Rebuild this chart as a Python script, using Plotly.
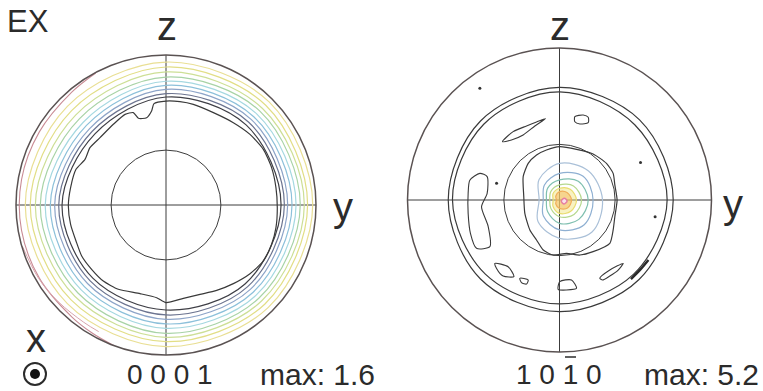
import numpy as np
import plotly.graph_objects as go

# ---------------- data ----------------
ANG8 = [0, 45, 90, 135, 180, 225, 270, 315]   # directions (deg, 0 = y, 90 = z)

# Left pole figure {0001}: contour radii (normalised) at ANG8, outer -> inner
left_levels = [
    [0.978, 0.972, 0.953, 0.930, 0.938, 0.930, 0.944, 0.965],
    [0.944, 0.940, 0.920, 0.890, 0.905, 0.895, 0.911, 0.933],
    [0.922, 0.910, 0.887, 0.850, 0.871, 0.860, 0.882, 0.903],
    [0.895, 0.885, 0.853, 0.815, 0.838, 0.830, 0.856, 0.877],
    [0.867, 0.857, 0.825, 0.780, 0.805, 0.800, 0.822, 0.850],
    [0.840, 0.830, 0.798, 0.750, 0.771, 0.770, 0.793, 0.822],
    [0.811, 0.805, 0.771, 0.720, 0.742, 0.740, 0.762, 0.795],
    [0.789, 0.780, 0.742, 0.695, 0.715, 0.715, 0.733, 0.770],
    [0.767, 0.755, 0.720, 0.670, 0.693, 0.690, 0.700, 0.745],
]
left_colors = ['#e9df94', '#e2de86', '#cddf96', '#a8d3a6', '#a5d8e0',
               '#8cc0da', '#8da4c8', '#6c7490', '#3f3f46']

# innermost wavy contour of left figure (x, y normalised)
left_wavy_x = [0, -0.08, -0.096, -0.129, -0.184, -0.218, -0.273, -0.351, -0.44, -0.507,
               -0.54, -0.6, -0.636, -0.651, -0.636, -0.6, -0.562, -0.496, -0.418, -0.318,
               -0.173, -0.062, 0, 0.116, 0.227, 0.338, 0.449, 0.56, 0.649, 0.704,
               0.733, 0.742, 0.733, 0.704, 0.649, 0.56, 0.449, 0.316, 0.182, 0.093]
left_wavy_y = [0.693, 0.676, 0.627, 0.582, 0.578, 0.616, 0.604, 0.538, 0.449, 0.382,
               0.304, 0.238, 0.116, -0.007, -0.129, -0.24, -0.34, -0.429, -0.507, -0.562,
               -0.591, -0.618, -0.651, -0.622, -0.596, -0.569, -0.524, -0.458, -0.373, -0.262,
               -0.151, -0.018, 0.116, 0.249, 0.371, 0.471, 0.549, 0.616, 0.671, 0.689]

# high-density arcs near left rim (theta deg, r)
left_red_theta = [250, 240, 230, 210, 190, 170, 150, 130, 118]
left_red_r = [1.0, 0.985, 0.975, 0.975, 0.978, 0.978, 0.975, 0.98, 0.997]
left_pink_theta = [196, 210, 222, 235, 242]
left_pink_r = [0.996, 0.98, 0.965, 0.955, 0.956]

# Right pole figure {10-10}
right_rings = [
    [0.748, 0.745, 0.741, 0.735, 0.732, 0.735, 0.735, 0.740],
    [0.708, 0.700, 0.712, 0.705, 0.704, 0.690, 0.684, 0.690],
]
right_blob_levels = [
    [0.283, 0.270, 0.241, 0.190, 0.134, 0.200, 0.252, 0.300],
    [0.221, 0.220, 0.175, 0.140, 0.107, 0.150, 0.197, 0.230],
    [0.189, 0.175, 0.132, 0.110, 0.086, 0.110, 0.154, 0.180],
    [0.145, 0.130, 0.099, 0.080, 0.064, 0.080, 0.110, 0.135],
    [0.112, 0.100, 0.077, 0.060, 0.042, 0.060, 0.088, 0.105],
    [0.079, 0.070, 0.055, 0.035, 0.020, 0.035, 0.055, 0.075],
]
right_blob_colors = ['#aac0d8', '#8fb0d2', '#80c0b0', '#b6d88e', '#e8dc6e', '#f0ae5a']
right_blob_fills = [None, None, None, None, 'rgba(240,226,120,0.45)', 'rgba(244,190,100,0.55)']
right_core_x = [0.050, 0.032, 0.012, 0.030]
right_core_y = [-0.006, 0.012, -0.008, -0.026]

right_outer_x = [0.002, 0.112, 0.221, 0.309, 0.353, 0.364, 0.379, 0.364, 0.353, 0.331, 0.221,
                 0.134, 0.046, -0.042, -0.107, -0.151, -0.195, -0.228, -0.235, -0.239, -0.206,
                 -0.151, -0.086]
right_outer_y = [0.351, 0.333, 0.303, 0.241, 0.175, 0.099, 0.0, -0.110, -0.197, -0.285, -0.340,
                 -0.362, -0.351, -0.362, -0.329, -0.263, -0.197, -0.088, 0.022, 0.154, 0.241,
                 0.296, 0.329]

right_islands = [
    ([-0.59, -0.524, -0.476, -0.476, -0.513, -0.469, -0.458, -0.546, -0.586, -0.601, -0.601],
     [0.13, 0.175, 0.154, 0.044, -0.044, -0.175, -0.307, -0.318, -0.219, -0.088, 0.044]),
    ([-0.375, -0.305, -0.217, -0.151, -0.092, -0.162, -0.239, -0.316],
     [0.384, 0.450, 0.487, 0.513, 0.535, 0.487, 0.428, 0.395]),
    ([0.101, 0.156, 0.189, 0.189, 0.134, 0.101],
     [0.548, 0.559, 0.544, 0.509, 0.500, 0.515]),
    ([-0.425, -0.338, -0.300, -0.371, -0.414],
     [-0.417, -0.439, -0.504, -0.500, -0.450]),
    ([-0.261, -0.206, -0.217, -0.250],
     [-0.515, -0.526, -0.553, -0.544]),
    ([0.002, 0.079, 0.112, 0.046, -0.009],
     [-0.537, -0.526, -0.581, -0.592, -0.588]),
    ([0.265, 0.331, 0.419, 0.386, 0.331, 0.283],
     [-0.515, -0.461, -0.417, -0.461, -0.500, -0.526]),
]
right_dots_x = [-0.524, 0.533, 0.629, -0.414]
right_dots_y = [0.735, 0.246, -0.110, 0.110]
right_arc_x = [0.47, 0.53, 0.585]
right_arc_y = [-0.52, -0.46, -0.395]

GRID_R = 0.366
left_labels = {'title': 'EX', 'up': 'z', 'right': 'y', 'view': 'x', 'pole': '0 0 0 1', 'max': 'max: 1.6'}
right_labels = {'up': 'z', 'right': 'y', 'pole': '1 0 1 0', 'max': 'max: 5.2'}


# ---------------- helpers ----------------
def closed(v):
    v = list(v)
    return v + [v[0]]


def to_polar(x, y):
    x = np.asarray(x, float)
    y = np.asarray(y, float)
    return np.hypot(x, y), np.degrees(np.arctan2(y, x))


fig = go.Figure()


def add_line(sub, r, th, color, width=1.1, shape='linear', fill=None, fillcolor=None, smoothing=1.0):
    kw = dict(r=r, theta=th, mode='lines', subplot=sub, showlegend=False, hoverinfo='skip',
              line=dict(color=color, width=width, shape=shape, smoothing=smoothing))
    if fill:
        kw['fill'] = 'toself'
        kw['fillcolor'] = fillcolor
    fig.add_trace(go.Scatterpolar(**kw))


# left figure
for radii, col in zip(left_levels, left_colors):
    add_line('polar', closed(radii), closed(ANG8), col, width=1.2, shape='spline')
r, th = to_polar(left_wavy_x, left_wavy_y)
add_line('polar', closed(r), closed(th), '#3a3a3a', width=1.2, shape='spline', smoothing=0.6)
add_line('polar', left_red_r, left_red_theta, '#c98c96', width=1.1, shape='spline')
add_line('polar', left_pink_r, left_pink_theta, '#d8a4ac', width=1.0, shape='spline')

# right figure
for radii in right_rings:
    add_line('polar2', closed(radii), closed(ANG8), '#3a3a3a', width=1.2, shape='spline')
r, th = to_polar(right_outer_x, right_outer_y)
add_line('polar2', closed(r), closed(th), '#3a3a3a', width=1.2, shape='spline', smoothing=0.6)
for radii, col, fc in zip(right_blob_levels, right_blob_colors, right_blob_fills):
    add_line('polar2', closed(radii), closed(ANG8), col, width=1.2, shape='spline',
             fill=fc is not None, fillcolor=fc)
r, th = to_polar(right_core_x, right_core_y)
add_line('polar2', closed(r), closed(th), '#e67fa0', width=1.5, shape='spline',
         fill=True, fillcolor='rgba(250,225,235,1)')
for ix, iy in right_islands:
    r, th = to_polar(ix, iy)
    add_line('polar2', closed(r), closed(th), '#3a3a3a', width=1.1, shape='spline', smoothing=0.7)
r, th = to_polar(right_arc_x, right_arc_y)
add_line('polar2', r, th, '#2a2a2a', width=2.4, shape='spline')
r, th = to_polar(right_dots_x, right_dots_y)
fig.add_trace(go.Scatterpolar(r=r, theta=th, mode='markers', subplot='polar2', showlegend=False,
                              hoverinfo='skip', marker=dict(color='#333', size=3)))

W, H = 763, 391


def polar_layout(cx, cy, R):
    return dict(
        domain=dict(x=[(cx - R) / W, (cx + R) / W], y=[1 - (cy + R) / H, 1 - (cy - R) / H]),
        bgcolor='white',
        angularaxis=dict(rotation=0, direction='counterclockwise', tickmode='array',
                         tickvals=[0, 90, 180, 270], showticklabels=False, ticks='',
                         showgrid=True, gridcolor='#3c3c3c', gridwidth=1,
                         showline=True, linecolor='#5a5252', linewidth=1.5),
        radialaxis=dict(range=[0, 1], tickmode='array', tickvals=[GRID_R], showticklabels=False,
                        ticks='', showline=False, showgrid=True, gridcolor='#3c3c3c', gridwidth=1.1),
    )


FONT = 'Liberation Sans'
TXT = '#2b2b2b'


def ann(text, x, y, size):
    return dict(text=text, x=x / W, y=1 - y / H, xref='paper', yref='paper', showarrow=False,
                xanchor='center', yanchor='middle', font=dict(family=FONT, size=size, color=TXT))


def px_x(v):
    return v / W


def px_y(v):
    return 1 - v / H


annotations = [
    ann(left_labels['title'], 28, 22, 31),
    ann(left_labels['up'], 167, 26, 40),
    ann(left_labels['right'], 343, 207, 40),
    ann(left_labels['view'], 36, 338, 40),
    ann(left_labels['pole'], 170, 374, 28),
    ann(left_labels['max'], 317, 374, 30),
    ann(right_labels['up'], 560, 26, 40),
    ann(right_labels['right'], 733, 204, 40),
    ann(right_labels['pole'], 559, 374, 28),
    ann(right_labels['max'], 701, 374, 30),
]

# "view direction" symbol (circle with dot) and the bar over the negative index
shapes = [
    dict(type='circle', xref='paper', yref='paper', x0=px_x(24), x1=px_x(46), y0=px_y(385), y1=px_y(363),
         line=dict(color='#2b2b2b', width=2)),
    dict(type='circle', xref='paper', yref='paper', x0=px_x(30), x1=px_x(40), y0=px_y(379), y1=px_y(369),
         line=dict(color='#111', width=0), fillcolor='#111'),
    dict(type='line', xref='paper', yref='paper', x0=px_x(565), x1=px_x(576), y0=px_y(357), y1=px_y(357),
         line=dict(color='#2b2b2b', width=1.5)),
]

fig.update_layout(
    width=W, height=H, margin=dict(l=0, r=0, t=0, b=0),
    paper_bgcolor='white', plot_bgcolor='white',
    polar=polar_layout(166, 205, 150),
    polar2=polar_layout(559.5, 200, 152),
    annotations=annotations,
    shapes=shapes,
    showlegend=False,
)

fig.write_html('out.html')
